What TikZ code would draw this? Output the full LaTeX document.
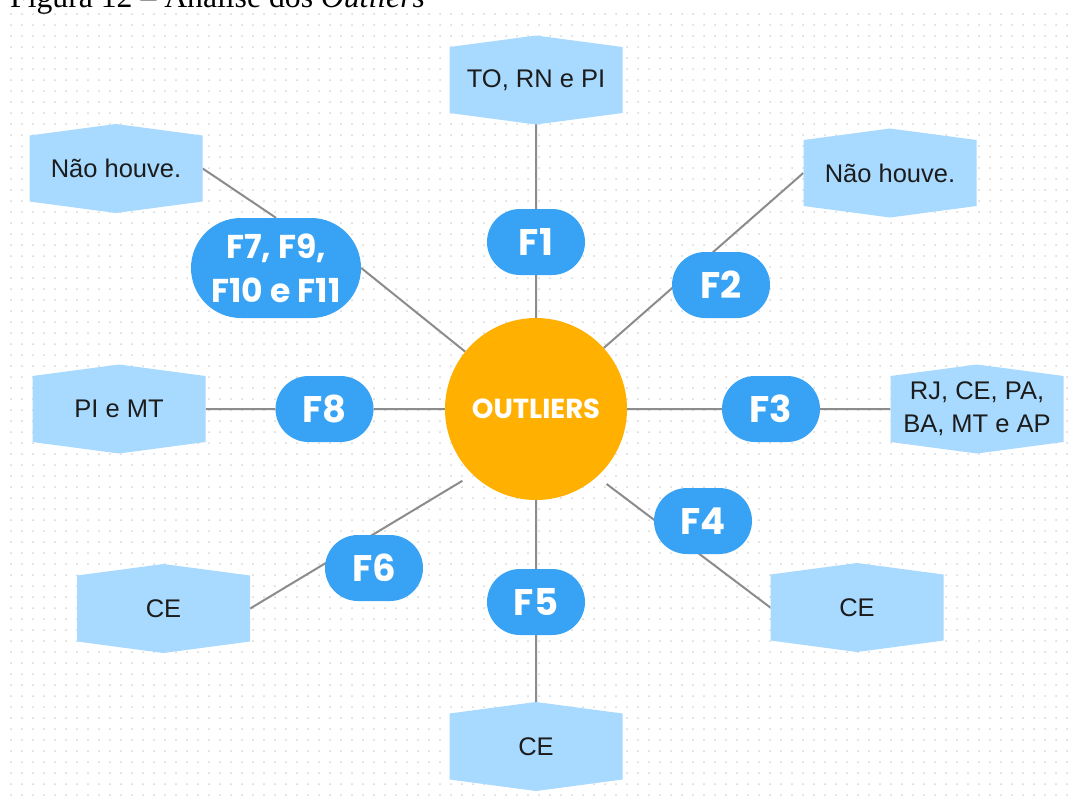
\documentclass[tikz,border=0pt]{standalone}
\usepackage{fontspec}
\setmainfont{Liberation Sans}
\newfontfamily\capfont{Liberation Serif}
\newfontfamily\boldfont{Poppins}
\usetikzlibrary{shapes.misc}

\pgfdeclarelayer{grid}
\pgfdeclarelayer{links}
\pgfsetlayers{grid,links,main}

\definecolor{pillblue}{RGB}{56,163,245}
\definecolor{paleblue}{RGB}{168,218,255}
\definecolor{hubgold}{RGB}{255,176,0}
\definecolor{linkgray}{RGB}{140,140,140}
\definecolor{dotgray}{RGB}{214,214,214}
\definecolor{ink}{RGB}{28,28,28}

\tikzset{
  hub/.style={circle, fill=hubgold, minimum size=182pt, inner sep=0pt,
    text=white, font=\boldfont\bfseries\fontsize{27.5}{30}\selectfont},
  pill/.style={rounded rectangle, fill=pillblue, minimum width=98pt,
    minimum height=66pt, inner sep=0pt, text=white,
    font=\boldfont\bfseries\fontsize{37}{40}\selectfont},
  bigpill/.style={pill, minimum width=170pt, minimum height=100pt,
    align=center, font=\boldfont\bfseries\fontsize{33}{44}\selectfont},
  answer/.style={minimum width=173pt, minimum height=66pt, inner sep=0pt,
    align=center, text=ink, font=\fontsize{25.5}{33}\selectfont},
  link/.style={draw=linkgray, line width=2pt},
}

% pale hexagonal answer box: name, centre, text
\newcommand\answerbox[3]{%
  \begin{scope}[shift={(#2)}]
    \fill[paleblue] (-86.5,-33) -- (0,-44.5) -- (86.5,-33) -- (86.5,33)
      -- (0,44.5) -- (-86.5,33) -- cycle;
    \node[answer] (#1) at (0,0) {#3};
  \end{scope}}

\begin{document}
\begin{tikzpicture}[x=1pt,y=-1pt]
\useasboundingbox (0,0) rectangle (1071,796);

% dotted paper and caption
\begin{pgfonlayer}{grid}
  \fill[white] (0,0) rectangle (1071,796);
  \foreach \r in {0,...,71} {
    \draw[dotgray, line width=2pt, line cap=round, dash pattern=on 0pt off 11pt]
      (11,14+11*\r) -- (1071,14+11*\r);
  }
  \begin{scope}
    \clip (0,0) rectangle (1071,796);
    \node[anchor=base west, inner sep=0pt,
      font=\capfont\fontsize{31.7}{36}\selectfont] (caption) at (10,7.5)
      {Figura 12 – Análise dos \textit{Outliers}};
  \end{scope}
\end{pgfonlayer}

% answers
\answerbox{aT}{536,80}{TO, RN e PI}
\answerbox{aNL}{116,168.5}{Não houve.}
\answerbox{aNR}{890,173}{Não houve.}
\answerbox{aRJ}{977,409}{RJ, CE, PA,\\BA, MT e AP}
\answerbox{aPI}{119,409}{PI e MT}
\answerbox{aCEL}{163.5,608.5}{CE}
\answerbox{aCEB}{536,746.5}{CE}
\answerbox{aCER}{857,607.5}{CE}

% hub and factors
\node[hub] (c) at (536,409) {OUTLIERS};
\node[pill] (f1) at (536,242) {F1};
\node[pill] (f2) at (721,285) {F2};
\node[pill] (f3) at (771,409) {F3};
\node[pill] (f4) at (703,521) {F4};
\node[pill] (f5) at (536,602) {F5};
\node[pill] (f6) at (374,568) {F6};
\node[pill] (f8) at (324.5,409) {F8};
\node[bigpill] (f7) at (276,268) {F7, F9,\\F10 e F11};

% connectors, behind the shapes
\begin{pgfonlayer}{links}
  \draw[link] (aT) -- (f1) -- (c);
  \draw[link] (aNL.east) -- (f7.north);
  \draw[link] (f7.east) -- (c.141);
  \draw[link] (aNR.west) -- (c.42);
  \draw[link] (aPI) -- (f8) -- (c);
  \draw[link] (aRJ) -- (f3) -- (c);
  \draw[link, shorten <=12pt] (c.-134) -- (aCEL.east);
  \draw[link] (aCEB) -- (f5) -- (c);
  \draw[link, shorten <=12pt] (c.-48) -- (aCER.west);
\end{pgfonlayer}
\end{tikzpicture}
\end{document}
